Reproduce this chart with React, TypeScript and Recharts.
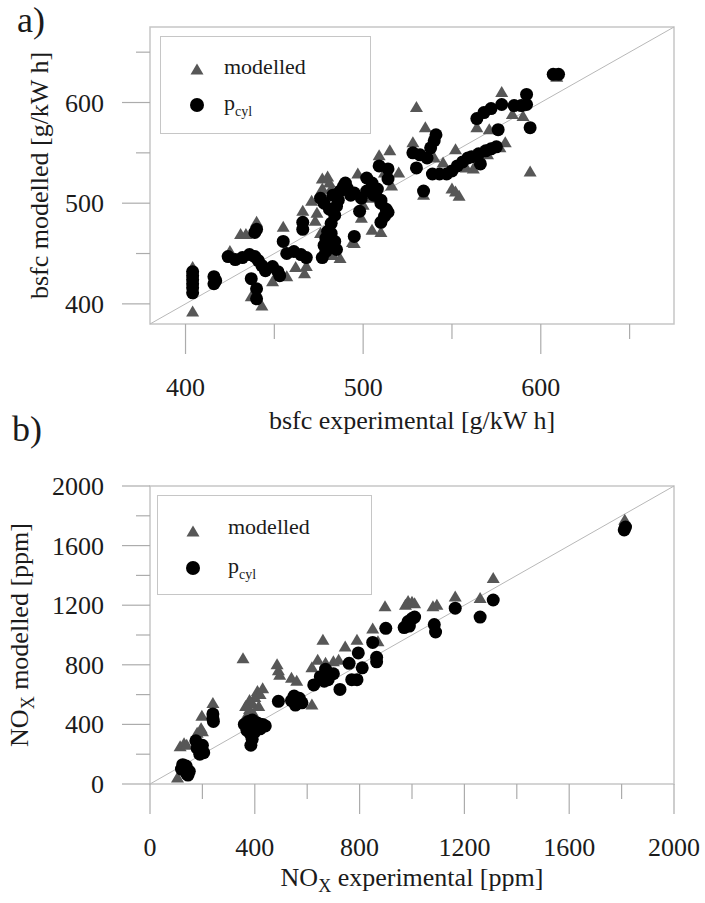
import React from "react";
import { ReferenceArea, ReferenceLine, Scatter, ScatterChart, XAxis, YAxis } from "recharts";

type Pt = [number, number];

const serif = '"Liberation Serif", "Times New Roman", serif';
const boxGrey = "#c6c6c6";
const tickGrey = "#acacac";
const lineGrey = "#b8b8b8";
const triGrey = "#575757";
const ink = "#1b1b1b";

// panel a) bsfc
const bsfcDomain: [number, number] = [380, 675];
const bsfcTicks = [400, 450, 500, 550, 600, 650];
const bsfcLabelled = [400, 500, 600];

const bsfcModelled: Pt[] = [
  [404, 392], [404, 436], [425, 452], [431, 469], [434, 469], [440, 481], [443, 398], [437, 407],
  [449, 422], [457, 427], [455, 476], [462, 436], [467, 430], [468, 437], [466, 492], [477, 524],
  [477, 514], [480, 526], [481, 520], [482, 514], [483, 448], [494, 461], [487, 445], [488, 517],
  [497, 529], [499, 485], [495, 460], [505, 473], [510, 471], [509, 547], [515, 552], [516, 517],
  [512, 530], [528, 560], [530, 595], [535, 575], [534, 508], [540, 545], [552, 553], [550, 514],
  [554, 507], [552, 511], [562, 534], [564, 575], [571, 573], [577, 555], [578, 610], [584, 588],
  [590, 586], [594, 531], [609, 625], [545, 540], [558, 535], [570, 548], [580, 560], [520, 530],
  [474, 490], [471, 502], [473, 482], [476, 470], [500, 498], [505, 505],
];

const bsfcPcyl: Pt[] = [
  [404, 432], [404, 428], [404, 424], [404, 420], [404, 416], [404, 411],
  [416, 427], [417, 423], [416, 420],
  [424, 447], [428, 444], [432, 446], [436, 449], [439, 447], [439, 471], [440, 474],
  [441, 443], [443, 438], [445, 433], [437, 425], [440, 415], [440, 405],
  [449, 437], [452, 432], [453, 428], [455, 462],
  [457, 450], [461, 452], [465, 449], [468, 446], [466, 481], [466, 474],
  [477, 446], [479, 452], [478, 458], [479, 465], [480, 472], [482, 480], [484, 488], [485, 497],
  [486, 503], [483, 508], [487, 512], [489, 517], [482, 470], [480, 455], [484, 462], [485, 454],
  [478, 500], [481, 494], [476, 505],
  [491, 515], [495, 510], [499, 505], [502, 512], [498, 492], [495, 467], [490, 520], [493, 508],
  [502, 525], [505, 520], [508, 514], [506, 508], [510, 503], [509, 537], [514, 534], [514, 524],
  [510, 500], [513, 494], [512, 487], [510, 481], [514, 491],
  [528, 550], [532, 548], [536, 545], [538, 555], [540, 562], [541, 568], [530, 535], [534, 512],
  [539, 529], [543, 529], [547, 529], [550, 532], [553, 537], [556, 541], [559, 545],
  [561, 546], [565, 549], [569, 552], [572, 554], [575, 556], [566, 539],
  [564, 584], [568, 590], [572, 594], [576, 573],
  [578, 598], [585, 597], [589, 597], [592, 598], [592, 608], [594, 575], [607, 628], [610, 628],
];

// panel b) NOx
const noxDomain: [number, number] = [0, 2000];
const noxTicks = [0, 200, 400, 600, 800, 1000, 1200, 1400, 1600, 1800, 2000];
const noxLabelled = [0, 400, 800, 1200, 1600, 2000];

const noxModelled: Pt[] = [
  [105, 40], [115, 250], [130, 270], [140, 260], [180, 340], [195, 370], [200, 350], [198, 455],
  [240, 540], [355, 840], [370, 460], [380, 500], [390, 540], [400, 580], [410, 620], [420, 600],
  [430, 640], [380, 560], [395, 470], [415, 520], [365, 520], [485, 800], [490, 760], [495, 730],
  [540, 710], [560, 690], [618, 780], [618, 530], [660, 965], [640, 830], [670, 810], [700, 820],
  [720, 830], [745, 920], [790, 965], [850, 1040], [870, 955], [897, 1190], [975, 1200], [985, 1225],
  [1000, 1220], [1010, 1210], [1080, 1190], [1095, 1200], [1165, 1255], [1260, 1245], [1310, 1380],
  [1812, 1770],
];

const noxPcyl: Pt[] = [
  [125, 130], [130, 110], [135, 90], [140, 70], [145, 60], [150, 85], [120, 100], [138, 120],
  [175, 290], [180, 240], [190, 200], [205, 210], [200, 260],
  [240, 470], [240, 440], [242, 420],
  [360, 400], [370, 380], [380, 350], [385, 330], [375, 420], [390, 300], [385, 260], [395, 380],
  [410, 410], [420, 370], [430, 400], [440, 390], [380, 410], [390, 430], [370, 360], [400, 350],
  [405, 395], [425, 380],
  [490, 555], [540, 560], [550, 590], [560, 540], [570, 575], [580, 545], [555, 530],
  [625, 665], [650, 720], [670, 770], [680, 700], [700, 740], [665, 690], [725, 635],
  [760, 810], [770, 700], [790, 700], [795, 880], [810, 780],
  [850, 950], [865, 850], [865, 820], [900, 1045],
  [970, 1050], [985, 1090], [1000, 1110], [1010, 1120], [990, 1060], [1085, 1070], [1090, 1020],
  [1165, 1180], [1260, 1120], [1310, 1235], [1810, 1705], [1815, 1725],
];

const toRows = (pts: Pt[]) => pts.map(([x, y]) => ({ x, y }));

const Triangle = (p: any) => (
  <polygon
    points={`${p.cx},${p.cy - 6.5} ${p.cx - 6.5},${p.cy + 4.5} ${p.cx + 6.5},${p.cy + 4.5}`}
    fill={triGrey}
  />
);
const Dot = (p: any) => <circle cx={p.cx} cy={p.cy} r={6.5} fill="#000" />;

const yTick = (labelled: number[]) => (props: any) => {
  const { x, y, payload } = props;
  const major = labelled.includes(payload.value);
  return (
    <g>
      <line x1={x - (major ? 28 : 14)} x2={x} y1={y} y2={y} stroke={tickGrey} strokeWidth={1.2} />
      {major ? (
        <text x={x - 46} y={y + 9} textAnchor="end" fontFamily={serif} fontSize={26} fill={ink}>
          {payload.value}
        </text>
      ) : null}
    </g>
  );
};

const xTick = (labelled: number[]) => (props: any) => {
  const { x, y, payload } = props;
  const major = labelled.includes(payload.value);
  return (
    <g>
      <line x1={x} x2={x} y1={y} y2={y + (major ? 30 : 15)} stroke={tickGrey} strokeWidth={1.2} />
      {major ? (
        <text x={x} y={y + 72} textAnchor="middle" fontFamily={serif} fontSize={26} fill={ink}>
          {payload.value}
        </text>
      ) : null}
    </g>
  );
};

type PanelProps = {
  top: number;
  height: number;
  plotTop: number;
  axisHeight: number;
  domain: [number, number];
  ticks: number[];
  labelled: number[];
  modelled: Pt[];
  pcyl: Pt[];
  xTitle: React.ReactNode;
  yTitle: React.ReactNode;
  xTitleDy: number;
  yTitleX: number;
};

function Panel(p: PanelProps) {
  const [d0, d1] = p.domain;
  return (
    <div style={{ position: "absolute", left: 0, top: p.top }}>
      <ScatterChart width={705} height={p.height} margin={{ top: p.plotTop, right: 31, bottom: 0, left: 0 }}>
        <XAxis
          type="number"
          dataKey="x"
          domain={p.domain}
          ticks={p.ticks}
          interval={0}
          allowDataOverflow
          height={p.axisHeight}
          tickSize={0}
          tickMargin={0}
          axisLine={false}
          tickLine={false}
          tick={xTick(p.labelled)}
          label={(lp: any) => {
            const vb = lp.viewBox || { x: 150, y: 0, width: 524 };
            return (
              <text x={vb.x + vb.width / 2} y={vb.y + p.xTitleDy} textAnchor="middle" fontFamily={serif} fontSize={26} fill={ink}>
                {p.xTitle}
              </text>
            );
          }}
        />
        <YAxis
          type="number"
          dataKey="y"
          domain={p.domain}
          ticks={p.ticks}
          interval={0}
          allowDataOverflow
          width={150}
          tickSize={0}
          tickMargin={0}
          axisLine={false}
          tickLine={false}
          tick={yTick(p.labelled)}
          label={(lp: any) => {
            const vb = lp.viewBox || { y: 0, height: 300 };
            const cy = vb.y + vb.height / 2;
            return (
              <text
                x={p.yTitleX}
                y={cy}
                transform={`rotate(-90, ${p.yTitleX}, ${cy})`}
                textAnchor="middle"
                fontFamily={serif}
                fontSize={26}
                fill={ink}
              >
                {p.yTitle}
              </text>
            );
          }}
        />
        <ReferenceArea x1={d0} x2={d1} y1={d0} y2={d1} fill="none" fillOpacity={0} stroke={boxGrey} strokeWidth={1.5} />
        <ReferenceLine segment={[{ x: d0, y: d0 }, { x: d1, y: d1 }]} stroke={lineGrey} strokeWidth={1} />
        <Scatter data={toRows(p.modelled)} shape={Triangle} isAnimationActive={false} />
        <Scatter data={toRows(p.pcyl)} shape={Dot} isAnimationActive={false} />
      </ScatterChart>
    </div>
  );
}

function LegendBox({ left, top, width, height, tri, dot, textX, modBase, pBase }: any) {
  return (
    <div
      style={{
        position: "absolute",
        left,
        top,
        width,
        height,
        border: `1.5px solid ${boxGrey}`,
        boxSizing: "border-box",
        background: "#fff",
      }}
    >
      <svg width={width} height={height} style={{ position: "absolute", left: -1.5, top: -1.5 }}>
        <Triangle cx={tri[0]} cy={tri[1]} />
        <text x={textX} y={modBase} fontFamily={serif} fontSize={22} fill={ink}>
          modelled
        </text>
        <circle cx={dot[0]} cy={dot[1]} r={7} fill="#000" />
        <text x={textX} y={pBase} fontFamily={serif} fontSize={22} fill={ink}>
          p<tspan fontSize={14} dy={6}>cyl</tspan>
        </text>
      </svg>
    </div>
  );
}

export default function App() {
  return (
    <div style={{ position: "absolute", left: 0, top: 0, width: 705, height: 903, background: "#fff", overflow: "hidden" }}>
      <Panel
        top={0}
        height={450}
        plotTop={27}
        axisHeight={126}
        domain={bsfcDomain}
        ticks={bsfcTicks}
        labelled={bsfcLabelled}
        modelled={bsfcModelled}
        pcyl={bsfcPcyl}
        xTitle="bsfc experimental [g/kW h]"
        yTitle="bsfc modelled [g/kW h]"
        xTitleDy={105}
        yTitleX={48}
      />
      <Panel
        top={450}
        height={453}
        plotTop={36}
        axisHeight={119}
        domain={noxDomain}
        ticks={noxTicks}
        labelled={noxLabelled}
        modelled={noxModelled}
        pcyl={noxPcyl}
        xTitle={
          <>
            NO<tspan fontSize={18} dy={6}>X</tspan>
            <tspan dy={-6}> experimental [ppm]</tspan>
          </>
        }
        yTitle={
          <>
            NO<tspan fontSize={18} dy={6}>X</tspan>
            <tspan dy={-6}> modelled [ppm]</tspan>
          </>
        }
        xTitleDy={102}
        yTitleX={28}
      />
      <LegendBox left={160} top={36} width={211} height={98} tri={[37, 34]} dot={[37, 69]} textX={64} modBase={38} pBase={74} />
      <LegendBox left={157} top={495} width={215} height={100} tri={[36, 37]} dot={[36, 73]} textX={71} modBase={39} pBase={78} />
      <svg width={705} height={903} style={{ position: "absolute", left: 0, top: 0, pointerEvents: "none" }}>
        <text x={17} y={32} fontFamily={serif} fontSize={36} fill={ink}>a)</text>
        <text x={12} y={441} fontFamily={serif} fontSize={36} fill={ink}>b)</text>
      </svg>
    </div>
  );
}
